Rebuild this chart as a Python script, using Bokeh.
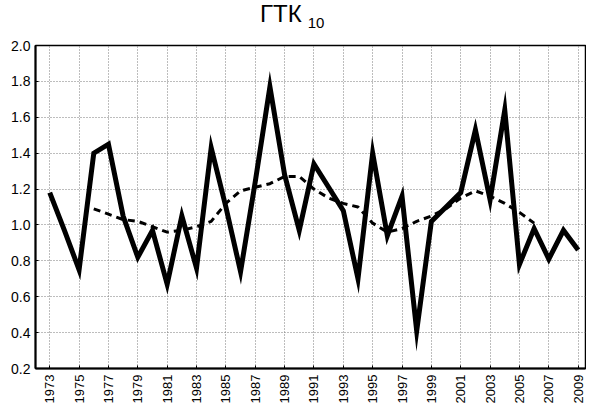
from bokeh.plotting import figure
from bokeh.models import Range1d, FixedTicker, Div
from bokeh.layouts import column
from bokeh.embed import file_html
from bokeh.resources import INLINE
from math import pi

years = list(range(1973, 2010))
gtk = [1.18, 0.97, 0.75, 1.40, 1.45, 1.05, 0.82, 0.97, 0.67, 1.05,
       0.76, 1.43, 1.10, 0.74, 1.24, 1.77, 1.28, 0.97, 1.34, 1.21,
       1.08, 0.70, 1.40, 0.94, 1.16, 0.41, 1.02, 1.10, 1.18, 1.53,
       1.14, 1.64, 0.78, 0.98, 0.81, 0.97, 0.86]

smooth_years = list(range(1976, 2007))
smooth = [1.09, 1.06, 1.03, 1.02, 0.99, 0.96, 0.97, 0.99, 1.02, 1.12,
          1.19, 1.21, 1.23, 1.27, 1.27, 1.20, 1.15, 1.12, 1.10, 1.01,
          0.96, 0.98, 1.02, 1.05, 1.09, 1.15, 1.19, 1.16, 1.12, 1.07,
          1.01]

x_ticks = list(range(1973, 2010, 2))
y_ticks = [0.2, 0.4, 0.6, 0.8, 1.0, 1.2, 1.4, 1.6, 1.8, 2.0]
y_tick_labels = ["0.2", "0.4", "0.6", "0.8", "1.0", "1.2", "1.4", "1.6", "1.8", "2.0"]
title_main = "ГТК"
title_sub = "10"

title_div = Div(
    text=('<div style="padding-left:260px; padding-top:0px; line-height:28px; '
          'font-family:\'Liberation Sans\'; font-size:24px; color:black; white-space:nowrap;">'
          + title_main
          + '<span style="font-size:15px; position:relative; top:6px; margin-left:6px;">'
          + title_sub + '</span></div>'),
    width=586, height=35, margin=(0, 0, 0, 0))

p = figure(width=586, height=375, output_backend="svg", toolbar_location=None,
           x_range=Range1d(1972.03, 2009.5), y_range=Range1d(0.2, 2.0),
           min_border_left=35, min_border_right=1, min_border_top=10, min_border_bottom=42)
p.background_fill_color = "white"
p.border_fill_color = None
p.outline_line_color = "black"
p.outline_line_width = 1.5

p.xaxis.ticker = FixedTicker(ticks=x_ticks)
p.yaxis.ticker = FixedTicker(ticks=y_ticks)
p.yaxis.major_label_overrides = {t: l for t, l in zip(y_ticks, y_tick_labels)}
p.xaxis.major_label_orientation = pi / 2
for ax in (p.xaxis, p.yaxis):
    ax.axis_line_color = "black"
    ax.axis_line_width = 2
    ax.major_tick_in = 3
    ax.major_tick_out = 0
    ax.minor_tick_line_color = None
    ax.major_tick_line_color = "black"
    ax.major_label_text_color = "black"
    ax.major_label_text_font = "Liberation Sans"
p.xaxis.major_label_text_font_size = "13px"
p.yaxis.major_label_text_font_size = "14px"
p.xaxis.major_label_standoff = 6
p.yaxis.major_label_standoff = 5

for g in (p.xgrid, p.ygrid):
    g.grid_line_color = "#7a7a7a"
    g.grid_line_dash = "1 2"
    g.grid_line_width = 1

p.line(smooth_years, smooth, line_color="black", line_width=3, line_dash="7 5")
p.line(years, gtk, line_color="black", line_width=5, line_join="miter")

layout = column(title_div, p, spacing=0)
open("out.html", "w").write(file_html(layout, INLINE))
